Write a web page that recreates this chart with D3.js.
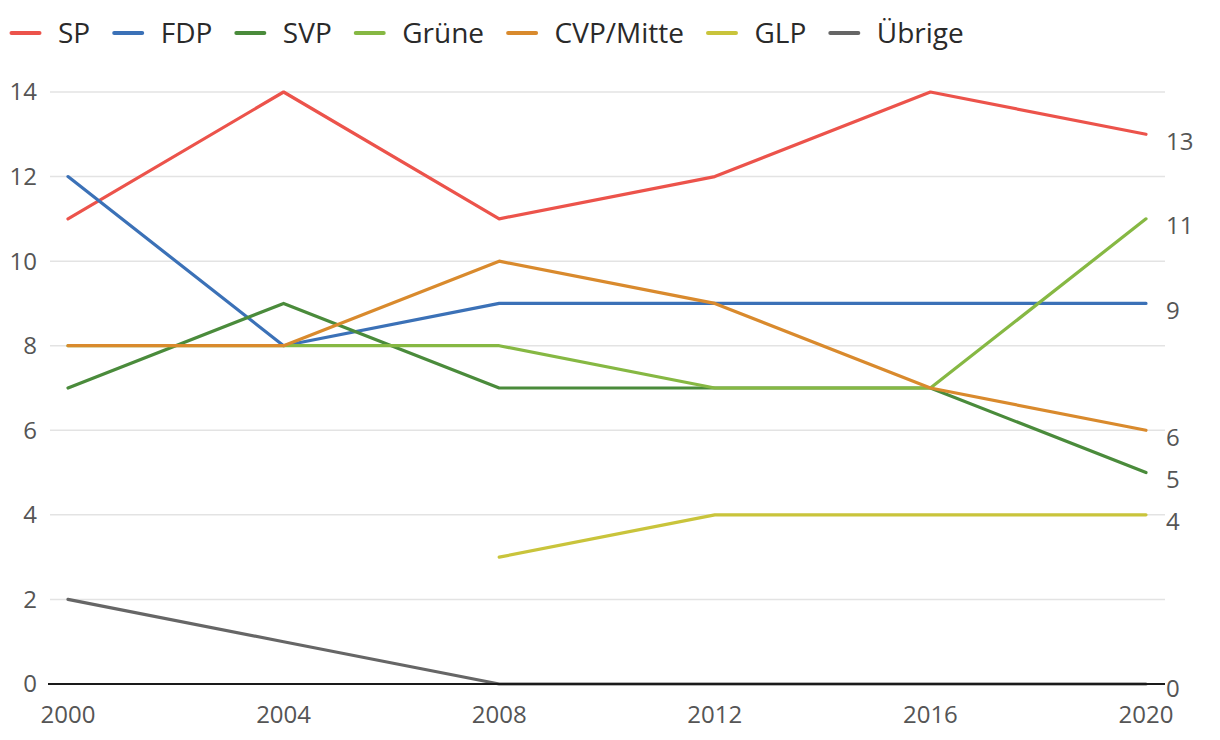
<!DOCTYPE html>
<html><head><meta charset="utf-8">
<script src="https://cdn.jsdelivr.net/npm/d3@7"></script>
<style>
html,body{margin:0;padding:0;background:#fff;}
text{font-family:"Open Sans","Noto Sans",sans-serif;}
</style></head>
<body>
<svg id="chart" width="1220" height="740"></svg>
<script>
const years = [2000, 2004, 2008, 2012, 2016, 2020];
const seriesNames = ["SP", "FDP", "SVP", "Grüne", "CVP/Mitte", "GLP", "Übrige"];
const spValues = [11, 14, 11, 12, 14, 13];
const fdpValues = [12, 8, 9, 9, 9, 9];
const svpValues = [7, 9, 7, 7, 7, 5];
const grueneValues = [8, 8, 8, 7, 7, 11];
const cvpValues = [8, 8, 10, 9, 7, 6];
const glpValues = [null, null, 3, 4, 4, 4];
const uebrigeValues = [2, 1, 0, 0, 0, 0];
const yTicks = [0, 2, 4, 6, 8, 10, 12, 14];
const colors = ["#ec534b", "#3b71b7", "#4a8b3b", "#86b843", "#d98a2d", "#c9c43b", "#666666"];

const allValues = [spValues, fdpValues, svpValues, grueneValues, cvpValues, glpValues, uebrigeValues];
const series = seriesNames.map((n, i) => ({name: n, values: allValues[i], color: colors[i]}));

const svg = d3.select("#chart");
const x = d3.scaleLinear().domain([2000, 2020]).range([68, 1146]);
const y = d3.scaleLinear().domain([0, 14]).range([684, 92]);
const gridX0 = 50, gridX1 = 1165;

// gridlines
svg.append("g").selectAll("line").data(yTicks.filter(d => d !== 0)).join("line")
  .attr("x1", gridX0).attr("x2", gridX1)
  .attr("y1", d => y(d)).attr("y2", d => y(d))
  .attr("stroke", "#e3e3e3").attr("stroke-width", 1.5);

// y tick labels
svg.append("g").selectAll("text").data(yTicks).join("text")
  .attr("x", 37).attr("y", d => y(d)).attr("dy", "0.35em")
  .attr("text-anchor", "end").attr("font-size", 24).attr("fill", "#555")
  .text(d => d);

// x tick labels
svg.append("g").selectAll("text").data(years).join("text")
  .attr("x", d => x(d)).attr("y", 715).attr("dy", "0.35em")
  .attr("text-anchor", "middle").attr("font-size", 24).attr("fill", "#555")
  .text(d => d);

// lines
const line = d3.line().defined(d => d.v !== null).x(d => x(d.year)).y(d => y(d.v));
svg.append("g").selectAll("path").data(series).join("path")
  .attr("d", s => line(s.values.map((v, i) => ({year: years[i], v}))))
  .attr("fill", "none").attr("stroke", s => s.color).attr("stroke-width", 3.2)
  .attr("stroke-linejoin", "round").attr("stroke-linecap", "round");

// baseline
svg.append("line").attr("x1", gridX0 - 2).attr("x2", gridX1)
  .attr("y1", y(0)).attr("y2", y(0)).attr("stroke", "#1a1a1a").attr("stroke-width", 2);

// end labels (distinct last values)
const lastVals = Array.from(new Set(series.map(s => s.values[s.values.length - 1])));
svg.append("g").selectAll("text").data(lastVals).join("text")
  .attr("x", 1166).attr("y", d => y(d) + (d === 0 ? 5 : 7)).attr("dy", "0.35em")
  .attr("font-size", 24).attr("fill", "#555")
  .text(d => d);

// legend
const legend = svg.append("g");
let lx = 10;
series.forEach(s => {
  legend.append("line").attr("x1", lx + 1.5).attr("x2", lx + 29.5)
    .attr("y1", 33).attr("y2", 33).attr("stroke", s.color)
    .attr("stroke-width", 4).attr("stroke-linecap", "round");
  const t = legend.append("text").attr("x", lx + 48).attr("y", 33).attr("dy", "0.35em")
    .attr("font-size", 28).attr("fill", "#2a2a2a").text(s.name);
  const w = t.node().getComputedTextLength();
  lx = lx + 48 + w + 22.5;
});
</script>
</body></html>
